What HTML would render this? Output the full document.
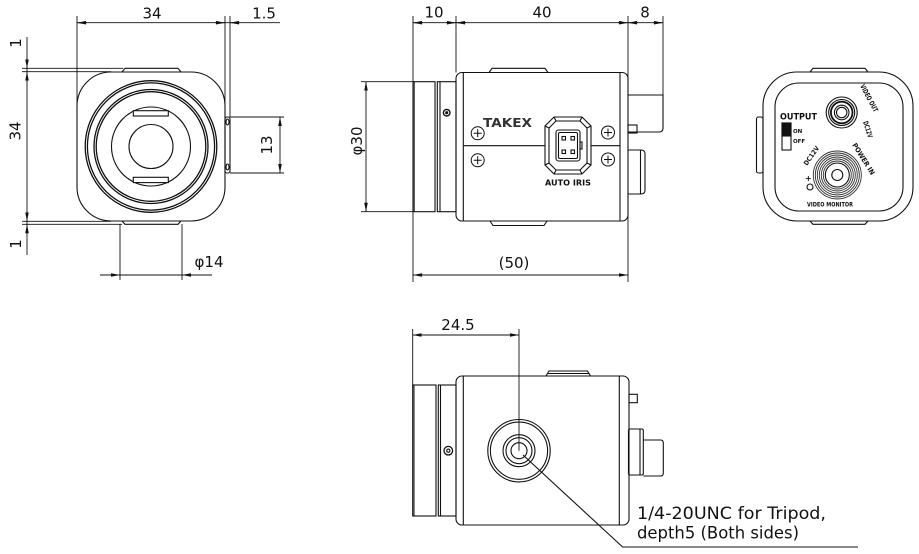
<!DOCTYPE html>
<html><head><meta charset="utf-8"><style>
html,body{margin:0;padding:0;background:#fff;}
svg{display:block;}
text{font-family:"DejaVu Sans","Liberation Sans",sans-serif;fill:#111;}
</style></head><body>
<svg width="919" height="554" viewBox="0 0 919 554" xmlns="http://www.w3.org/2000/svg">
<defs>
<marker id="ah" viewBox="0 0 10 4" refX="10" refY="2" markerWidth="9" markerHeight="3.6" orient="auto" markerUnits="userSpaceOnUse"><path d="M0,0L10,2L0,4z" fill="#111"/></marker>
<marker id="as" viewBox="0 0 10 4" refX="0" refY="2" markerWidth="9" markerHeight="3.6" orient="auto" markerUnits="userSpaceOnUse"><path d="M10,0L0,2L10,4z" fill="#111"/></marker>
</defs>
<g fill="none" stroke="#111" stroke-width="1.1">
<!-- ============ FRONT VIEW ============ -->
<rect x="77" y="72" width="148" height="149" rx="34"/>
<path d="M122,72 L125,68.3 L178,68.3 L181,72"/>
<path d="M122,221 L125,224.3 L178,224.3 L181,221"/>
<circle cx="151" cy="146.5" r="65.8" stroke-width="1.3"/>
<circle cx="151" cy="146.5" r="63.6" stroke-width="1.3"/>
<circle cx="151" cy="146.5" r="57" stroke-width="1.3"/>
<circle cx="151" cy="146.5" r="54.8" stroke-width="1.3"/>
<circle cx="151" cy="146.5" r="39.5"/>
<circle cx="151" cy="146.5" r="22"/>
<rect x="133.3" y="110.7" width="35" height="5.3" fill="#fff"/>
<rect x="133.3" y="177.3" width="35" height="5.3" fill="#fff"/>
<rect x="225" y="117" width="5" height="56" rx="2"/>
<ellipse cx="227.5" cy="122" rx="1.5" ry="3"/>
<ellipse cx="227.5" cy="167" rx="1.5" ry="3"/>
<!-- front dims -->
<g stroke-width="0.9">
<line x1="77" y1="16" x2="77" y2="106"/>
<line x1="225" y1="16" x2="225" y2="106"/>
<line x1="230" y1="16" x2="230" y2="117"/>
<line x1="77" y1="22.7" x2="280" y2="22.7"/>
<line x1="87" y1="22.7" x2="77" y2="22.7" marker-end="url(#ah)"/>
<line x1="215" y1="22.7" x2="225" y2="22.7" marker-end="url(#ah)"/>
<line x1="240" y1="22.7" x2="230" y2="22.7" marker-end="url(#ah)"/>
<line x1="22" y1="68.3" x2="123" y2="68.3"/>
<line x1="22" y1="71.7" x2="111" y2="71.7"/>
<line x1="22" y1="221.3" x2="111" y2="221.3"/>
<line x1="22" y1="224.3" x2="122" y2="224.3"/>
<line x1="27" y1="37" x2="27" y2="255"/>
<line x1="27" y1="58" x2="27" y2="68.3" marker-end="url(#ah)"/>
<line x1="27" y1="82" x2="27" y2="71.7" marker-end="url(#ah)"/>
<line x1="27" y1="211" x2="27" y2="221.3" marker-end="url(#ah)"/>
<line x1="27" y1="234" x2="27" y2="224.3" marker-end="url(#ah)"/>
<line x1="230" y1="117" x2="284" y2="117"/>
<line x1="230" y1="173" x2="284" y2="173"/>
<line x1="280" y1="117" x2="280" y2="173" marker-start="url(#as)" marker-end="url(#ah)"/>
<line x1="120" y1="224" x2="120" y2="280"/>
<line x1="182" y1="224" x2="182" y2="280"/>
<line x1="100" y1="275" x2="212" y2="275"/>
<line x1="110" y1="275" x2="120" y2="275" marker-end="url(#ah)"/>
<line x1="192" y1="275" x2="182" y2="275" marker-end="url(#ah)"/>
</g>

<!-- ============ SIDE VIEW ============ -->
<rect x="413" y="81.7" width="22" height="130"/>
<line x1="414.2" y1="81.7" x2="414.2" y2="211.7" stroke-width="1"/>
<rect x="437.3" y="81.7" width="18.7" height="130"/>
<line x1="440" y1="81.7" x2="440" y2="211.7"/>
<circle cx="446.7" cy="112.7" r="3.3" stroke-width="1.4"/>
<circle cx="446.7" cy="112.7" r="1" fill="#111"/>
<rect x="456" y="72.5" width="172" height="148.5" rx="6"/>
<line x1="463.3" y1="72.5" x2="463.3" y2="221"/>
<line x1="620" y1="72.5" x2="620" y2="221"/>
<path d="M489,72.5 L492,68.3 L545,68.3 L548,72.5"/>
<path d="M490,221 L493,225.5 L544,225.5 L547,221"/>
<line x1="463.3" y1="145.7" x2="545" y2="145.7"/>
<line x1="591" y1="145.7" x2="620" y2="145.7"/>
<!-- screws -->
<g stroke-width="1">
<circle cx="477.7" cy="133.3" r="6.5"/><path d="M473.7,133.3H481.7M477.7,129.3V137.3"/>
<circle cx="477.7" cy="160.3" r="6.5"/><path d="M473.7,160.3H481.7M477.7,156.3V164.3"/>
<circle cx="608" cy="132.5" r="6.5"/><path d="M604,132.5H612M608,128.5V136.5"/>
<circle cx="608" cy="159.5" r="6.5"/><path d="M604,159.5H612M608,155.5V163.5"/>
</g>
<!-- auto iris connector -->
<path d="M554,117 L582,117 L591,126 L591,165 L582,174 L554,174 L545,165 L545,126 Z"/>
<path d="M556,121 L580,121 L587,128 L587,163 L580,170 L556,170 L549,163 L549,128 Z"/>
<path d="M554,117L556,121M582,117L580,121M591,126L587,128M591,165L587,163M582,174L580,170M554,174L556,170M545,165L549,163M545,126L549,128"/>
<rect x="556" y="130" width="24" height="31" rx="2.5"/>
<rect x="558.5" y="132.5" width="19" height="26" rx="1.5"/>
<rect x="562" y="136.5" width="3.5" height="3.5"/>
<rect x="571" y="136.5" width="3.5" height="3.5"/>
<rect x="562" y="150" width="3.5" height="3.5"/>
<rect x="571" y="150" width="3.5" height="3.5"/>
<rect x="580" y="142" width="2" height="7"/>
<!-- back connectors side -->
<path d="M628,95 H663 V128 Q663,132 659,132 H628"/>
<rect x="628" y="125" width="9" height="8"/>
<path d="M628,150 H641 Q645,150 645,154 V190 Q645,194 641,194 H628"/>
<line x1="640.5" y1="150" x2="640.5" y2="194"/>
<!-- side dims -->
<g stroke-width="0.9">
<line x1="413" y1="16" x2="413" y2="282"/>
<line x1="456" y1="16" x2="456" y2="72.5"/>
<line x1="628" y1="16" x2="628" y2="282"/>
<line x1="663" y1="16" x2="663" y2="95"/>
<line x1="413" y1="22.7" x2="663" y2="22.7"/>
<line x1="423" y1="22.7" x2="413" y2="22.7" marker-end="url(#ah)"/>
<line x1="446" y1="22.7" x2="456" y2="22.7" marker-end="url(#ah)"/>
<line x1="466" y1="22.7" x2="456" y2="22.7" marker-end="url(#ah)"/>
<line x1="618" y1="22.7" x2="628" y2="22.7" marker-end="url(#ah)"/>
<line x1="638" y1="22.7" x2="628" y2="22.7" marker-end="url(#ah)"/>
<line x1="653" y1="22.7" x2="663" y2="22.7" marker-end="url(#ah)"/>
<line x1="361" y1="81.7" x2="413" y2="81.7"/>
<line x1="361" y1="211.7" x2="413" y2="211.7"/>
<line x1="366" y1="81.7" x2="366" y2="211.7" marker-start="url(#as)" marker-end="url(#ah)"/>
<line x1="413" y1="275" x2="628" y2="275" marker-start="url(#as)" marker-end="url(#ah)"/>
</g>

<!-- ============ BACK VIEW ============ -->
<rect x="763" y="72" width="150" height="149" rx="34"/>
<rect x="775" y="83" width="128" height="128" rx="24"/>
<path d="M810,72 L813,68.3 L865,68.3 L868,72"/>
<path d="M810,221 L813,224.3 L865,224.3 L868,221"/>
<rect x="756.5" y="117" width="6.5" height="56" rx="2"/>
<circle cx="841.7" cy="112.5" r="15.5"/>
<circle cx="841.7" cy="112.5" r="13"/>
<circle cx="841.7" cy="112.5" r="10.8" stroke-width="1.8"/>
<circle cx="841.7" cy="112.5" r="7.3"/>
<circle cx="841.7" cy="112.5" r="5.2"/>
<g stroke="#333" stroke-width="0.9">
<circle cx="837.3" cy="175" r="24"/>
<circle cx="837.3" cy="175" r="22"/>
<circle cx="837.3" cy="175" r="20"/>
<circle cx="837.3" cy="175" r="18"/>
<circle cx="837.3" cy="175" r="16"/>
<circle cx="837.3" cy="175" r="14"/>
</g>
<circle cx="837.3" cy="175" r="12"/>
<circle cx="837.3" cy="175" r="5.5"/>
<rect x="782" y="123" width="9" height="27"/>
<rect x="782" y="123" width="9" height="13" fill="#111"/>
<circle cx="810" cy="187" r="3"/>

<!-- ============ BOTTOM VIEW ============ -->
<rect x="412.7" y="385" width="23.3" height="131"/>
<line x1="414" y1="385" x2="414" y2="516" stroke-width="1"/>
<rect x="438.3" y="385" width="17.7" height="131"/>
<line x1="440.5" y1="385" x2="440.5" y2="516"/>
<circle cx="448.3" cy="450.7" r="4.3" stroke-width="1.3"/>
<circle cx="448.3" cy="450.7" r="1.6"/>
<rect x="456" y="376" width="173" height="149" rx="6"/>
<line x1="463.3" y1="376" x2="463.3" y2="525"/>
<line x1="619.3" y1="376" x2="619.3" y2="525"/>
<path d="M546,376 L549,371 L587.5,371 L590.5,376"/>
<line x1="548" y1="373.5" x2="589" y2="373.5"/>
<rect x="629" y="394.3" width="8.3" height="8.4"/>
<rect x="628.5" y="429" width="14.8" height="46" rx="1.5"/>
<line x1="640" y1="429" x2="640" y2="475"/>
<path d="M643.3,440 H660.5 Q663.3,440 663.3,443 V473 Q663.3,476 660.5,476 H643.3"/>
<circle cx="519" cy="450.7" r="31.2"/>
<circle cx="519" cy="450.7" r="28.6"/>
<circle cx="519" cy="450.7" r="16"/>
<circle cx="519" cy="450.7" r="13"/>
<circle cx="519" cy="450.7" r="8"/>
<g stroke-width="0.9">
<line x1="412.7" y1="329" x2="412.7" y2="385"/>
<line x1="519" y1="329" x2="519" y2="450.7"/>
<line x1="412.7" y1="335" x2="519" y2="335" marker-start="url(#as)" marker-end="url(#ah)"/>
<polyline points="523,455 622.6,547 858,547" stroke-width="1.1"/>
</g>
</g>

<!-- ============ TEXT ============ -->
<g font-size="15" text-anchor="middle">
<text x="152" y="18.5">34</text>
<text x="264" y="18.5">1.5</text>
<text transform="translate(20.5,131) rotate(-90)">34</text>
<text transform="translate(21,43) rotate(-90)">1</text>
<text transform="translate(21,244) rotate(-90)">1</text>
<text transform="translate(272,145) rotate(-90)">13</text>
<text x="209" y="267">φ14</text>
<text x="434" y="17.5">10</text>
<text x="542" y="17.5">40</text>
<text x="645" y="17.5">8</text>
<text transform="translate(362,141) rotate(-90)">φ30</text>
<text x="514" y="268">(50)</text>
<text x="458" y="330">24.5</text>
</g>
<text x="483" y="127" font-size="12" font-weight="bold" textLength="49" lengthAdjust="spacingAndGlyphs" style="fill:#333">TAKEX</text>
<text x="545" y="185.5" font-size="7.5" font-weight="bold" textLength="46" lengthAdjust="spacingAndGlyphs">AUTO IRIS</text>
<text x="780" y="119.5" font-size="8.5" font-weight="bold" textLength="37" lengthAdjust="spacingAndGlyphs">OUTPUT</text>
<text x="793" y="133" font-size="5.5" font-weight="bold">ON</text>
<text x="793" y="143" font-size="5.5" font-weight="bold">OFF</text>
<text transform="translate(860,86) rotate(62)" font-size="7" font-weight="bold" textLength="30" lengthAdjust="spacingAndGlyphs">VIDEO OUT</text>
<text transform="translate(863,122) rotate(72)" font-size="7" font-weight="bold" textLength="17" lengthAdjust="spacingAndGlyphs">DC12V</text>
<text transform="translate(807,166) rotate(-55)" font-size="6.5" font-weight="bold" textLength="22" lengthAdjust="spacingAndGlyphs">DC12V</text>
<text x="805" y="181" font-size="8" font-weight="bold">+</text>
<text transform="translate(852,145) rotate(58)" font-size="7" font-weight="bold" textLength="36" lengthAdjust="spacingAndGlyphs">POWER IN</text>
<text x="807" y="206.5" font-size="6.5" font-weight="bold" textLength="46" lengthAdjust="spacingAndGlyphs">VIDEO MONITOR</text>
<text x="637" y="519" font-size="17" textLength="189" lengthAdjust="spacingAndGlyphs">1/4-20UNC for Tripod,</text>
<text x="637" y="538.5" font-size="17" textLength="162" lengthAdjust="spacingAndGlyphs">depth5 (Both sides)</text>
</svg>
</body></html>
